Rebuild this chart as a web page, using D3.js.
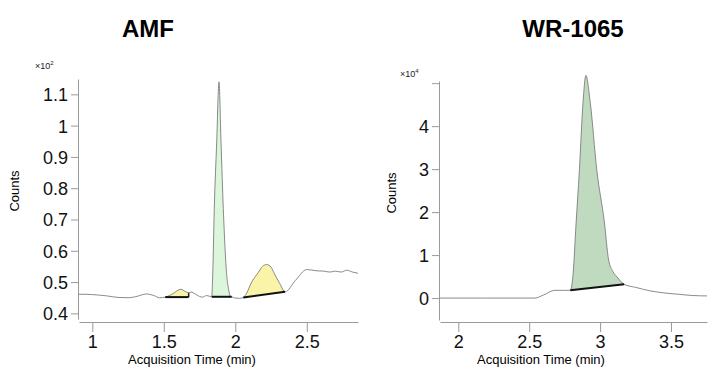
<!DOCTYPE html>
<html>
<head>
<meta charset="utf-8">
<script src="https://cdn.jsdelivr.net/npm/d3@7"></script>
<style>
  body { margin: 0; background: #fff; }
  text { font-family: "Liberation Sans", Arial, sans-serif; }
</style>
</head>
<body>
<div id="chart"></div>
<script>
// ---------------------------------------------------------------
// Chromatogram data (time in min, counts in units of the exponent)
// ---------------------------------------------------------------

// AMF trace, counts x10^2
const amfTime = [0.907, 0.95, 1.0, 1.1, 1.18, 1.25, 1.3, 1.38, 1.43, 1.47, 1.51, 1.56, 1.62, 1.65, 1.674,
    1.69, 1.72, 1.75, 1.77, 1.8, 1.835, 1.842, 1.853, 1.87, 1.886, 1.9, 1.916, 1.94, 1.952, 1.963, 1.975,
    2.0, 2.03, 2.056, 2.08, 2.11, 2.16, 2.19, 2.22, 2.25, 2.27, 2.31, 2.348, 2.42, 2.5, 2.57, 2.62, 2.66, 2.7, 2.74,
    2.78, 2.82, 2.858];
const amfCounts = [0.461, 0.461, 0.460, 0.456, 0.451, 0.450, 0.453, 0.462, 0.457, 0.450, 0.452, 0.462, 0.477, 0.470, 0.466,
    0.468, 0.462, 0.454, 0.452, 0.457, 0.453, 0.522, 0.735, 0.948, 1.14, 0.948, 0.735, 0.522, 0.480, 0.456, 0.453,
    0.449, 0.448, 0.451, 0.465, 0.496, 0.530, 0.550, 0.556, 0.548, 0.530, 0.496, 0.469, 0.505, 0.540, 0.536, 0.535, 0.532, 0.535, 0.532,
    0.538, 0.532, 0.528];

// AMF integrated peaks: [start, end], baseline counts at start / end
const amfPeakStart = [1.51, 1.835, 2.056];
const amfPeakEnd = [1.674, 1.975, 2.348];
const amfBaseStart = [0.452, 0.453, 0.451];
const amfBaseEnd = [0.452, 0.453, 0.469];
const amfPeakFill = ["#f9f4a8", "#dcf6dc", "#f9f4a8"];

// WR-1065 trace, counts x10^4
const wrTime = [1.871, 2.2, 2.54, 2.6, 2.68, 2.75, 2.79, 2.81, 2.83, 2.854, 2.88, 2.9, 2.93, 2.977, 3.03, 3.06,
    3.09, 3.12, 3.17, 3.25, 3.35, 3.45, 3.55, 3.65, 3.754];
const wrCounts = [0.0, 0.0, 0.0, 0.07, 0.18, 0.18, 0.18, 0.57, 1.7, 2.97, 4.57, 5.18, 4.57, 2.97, 1.77, 0.89,
    0.62, 0.49, 0.32, 0.25, 0.17, 0.12, 0.09, 0.06, 0.05];

const wrPeakStart = [2.79];
const wrPeakEnd = [3.17];
const wrBaseStart = [0.18];
const wrBaseEnd = [0.32];
const wrPeakFill = ["#bfdabf"];

// Axis ticks
const amfXTicks = [1, 1.5, 2, 2.5];
const amfYTicks = [0.4, 0.5, 0.6, 0.7, 0.8, 0.9, 1, 1.1];
const wrXTicks = [2, 2.5, 3, 3.5];
const wrYTicks = [0, 1, 2, 3, 4, 5];

const W = 708, H = 369;

const svg = d3.select("#chart").append("svg")
    .attr("width", W)
    .attr("height", H);

/**
 * Draw one chromatogram panel
 */
function panel(o) {
    const g = svg.append("g");

    const x = d3.scaleLinear().domain(o.xDomain).range([o.x0, o.x1]);
    const y = d3.scaleLinear().domain(o.yDomain).range([o.yBottom, o.yTop]);

    const trace = o.time.map((t, i) => ({ t: t, v: o.counts[i] }));

    // Title
    g.append("text")
        .attr("x", o.titleX)
        .attr("y", 37)
        .attr("text-anchor", "middle")
        .style("font-size", "24px")
        .style("font-weight", "bold")
        .text(o.title);

    // Exponent label
    const ex = g.append("text")
        .attr("x", o.expX)
        .attr("y", o.expY)
        .style("font-size", "9px")
        .style("fill", "#222")
        .text("×10");
    ex.append("tspan")
        .attr("dy", -4)
        .style("font-size", "6px")
        .text(o.exp);

    // Y axis
    const yAxis = g.append("g")
        .attr("transform", `translate(${o.yAxisX},0)`)
        .call(d3.axisLeft(y).tickValues(o.yTicks).tickSize(7).tickSizeOuter(0)
            .tickFormat(o.yFormat));
    // X axis
    const xAxis = g.append("g")
        .attr("transform", `translate(0,${o.xAxisY})`)
        .call(d3.axisBottom(x).tickValues(o.xTicks).tickSize(10).tickSizeOuter(0)
            .tickFormat(d3.format("~g")));

    [yAxis, xAxis].forEach(a => {
        a.selectAll("path, line").attr("stroke", "#9a9a9a");
        a.selectAll("text")
            .style("font-size", "18px")
            .style("font-family", "Liberation Sans, Arial, sans-serif")
            .attr("fill", "#111");
    });
    yAxis.selectAll("text").attr("x", -10).attr("dy", "0.36em");
    xAxis.selectAll("text").attr("y", 13);

    // Axis titles
    g.append("text")
        .attr("transform", `translate(${o.countsX},${o.countsY}) rotate(-90)`)
        .attr("text-anchor", "middle")
        .style("font-size", "13px")
        .text("Counts");
    g.append("text")
        .attr("x", o.labelX)
        .attr("y", 364)
        .attr("text-anchor", "middle")
        .style("font-size", "13px")
        .text("Acquisition Time (min)");

    // Integrated peaks
    o.peakStart.forEach((s, i) => {
        const e = o.peakEnd[i];
        const base = d3.scaleLinear().domain([s, e]).range([o.baseStart[i], o.baseEnd[i]]);
        const pts = trace.filter(d => d.t >= s - 1e-9 && d.t <= e + 1e-9);

        g.append("path")
            .datum(pts)
            .attr("fill", o.peakFill[i])
            .attr("stroke", "none")
            .attr("d", d3.area()
                .x(d => x(d.t))
                .y0(d => y(base(d.t)))
                .y1(d => y(d.v))
                .curve(d3.curveMonotoneX));

        // Peak drop line at the end if the trace sits above baseline
        g.append("line")
            .attr("x1", x(e)).attr("x2", x(e))
            .attr("y1", y(o.baseEnd[i]))
            .attr("y2", y(pts[pts.length - 1].v))
            .attr("stroke", "#222")
            .attr("stroke-width", 1.5);
    });

    // Trace
    g.append("path")
        .datum(trace)
        .attr("fill", "none")
        .attr("stroke", "#7d7d7d")
        .attr("stroke-width", 0.9)
        .attr("d", d3.line()
            .x(d => x(d.t))
            .y(d => y(d.v))
            .curve(d3.curveMonotoneX));

    // Baselines
    o.peakStart.forEach((s, i) => {
        g.append("line")
            .attr("x1", x(s)).attr("y1", y(o.baseStart[i]))
            .attr("x2", x(o.peakEnd[i])).attr("y2", y(o.baseEnd[i]))
            .attr("stroke", "#111")
            .attr("stroke-width", 2);
    });
}

panel({
    title: "AMF", titleX: 148,
    exp: "2", expX: 35, expY: 69,
    time: amfTime, counts: amfCounts,
    peakStart: amfPeakStart, peakEnd: amfPeakEnd,
    baseStart: amfBaseStart, baseEnd: amfBaseEnd, peakFill: amfPeakFill,
    xDomain: [0.907, 2.858], x0: 79, x1: 358,
    yDomain: [0.382, 1.149], yBottom: 319, yTop: 79,
    yAxisX: 78, xAxisY: 322,
    xTicks: amfXTicks, yTicks: amfYTicks,
    yFormat: d3.format("~g"),
    countsX: 19, countsY: 191, labelX: 192
});

panel({
    title: "WR-1065", titleX: 573,
    exp: "4", expX: 400, expY: 77,
    time: wrTime, counts: wrCounts,
    peakStart: wrPeakStart, peakEnd: wrPeakEnd,
    baseStart: wrBaseStart, baseEnd: wrBaseEnd, peakFill: wrPeakFill,
    xDomain: [1.871, 3.754], x0: 440, x1: 707,
    yDomain: [-0.51, 5.05], yBottom: 320, yTop: 81,
    yAxisX: 439, xAxisY: 322,
    xTicks: wrXTicks, yTicks: wrYTicks,
    yFormat: d => d === 5 ? "" : d,
    countsX: 396, countsY: 193, labelX: 541
});
</script>
</body>
</html>
